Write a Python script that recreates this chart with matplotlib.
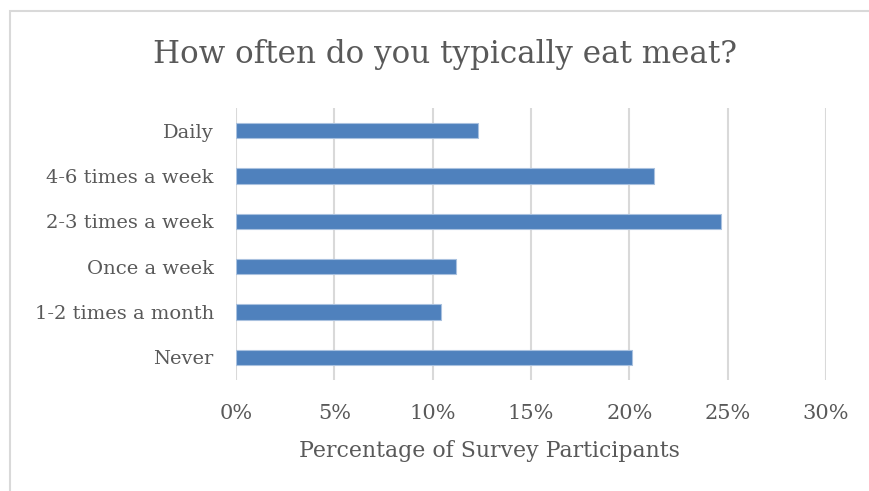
import matplotlib
matplotlib.use('Agg')
import matplotlib.pyplot as plt
from matplotlib.patches import Rectangle
from matplotlib.ticker import PercentFormatter

categories = ['Never', '1-2 times a month', 'Once a week', '2-3 times a week', '4-6 times a week', 'Daily']
percent = [20.15, 10.42, 11.17, 24.64, 21.25, 12.32]
x_ticks = [0, 5, 10, 15, 20, 25, 30]

text_color = '#595959'
plt.rcParams['font.family'] = ['DejaVu Serif']

fig = plt.figure(figsize=(8.7, 4.91), dpi=100)
ax = fig.add_axes([236 / 870, 1 - 380 / 491, 590 / 870, 272 / 491])

ax.barh(range(len(categories)), percent, height=0.34, color='#4f81bd',
        edgecolor='#a9c1df', linewidth=0.8, zorder=3)

ax.set_xlim(0, 30)
ax.set_ylim(-0.5, len(categories) - 0.5)
ax.set_xticks(x_ticks)
ax.xaxis.set_major_formatter(PercentFormatter(decimals=0))
ax.set_yticks(range(len(categories)))
ax.set_yticklabels(categories)
ax.grid(axis='x', color='#d9d9d9', linewidth=1.5, zorder=0)
for s in ax.spines.values():
    s.set_visible(False)
ax.tick_params(axis='both', length=0, colors=text_color, labelsize=14)
ax.tick_params(axis='y', pad=16)
ax.tick_params(axis='x', pad=17, labelsize=15)

fig.text(445 / 870, 1 - 55 / 491, 'How often do you typically eat meat?',
         ha='center', va='center', fontsize=22.3, color=text_color)
fig.text(489 / 870, 1 - 451 / 491, 'Percentage of Survey Participants',
         ha='center', va='center', fontsize=15.8, color=text_color)

# chart border
fig.patches.append(Rectangle((10 / 870, -0.1), 1.2, 1 - 11 / 491 + 0.1,
                             transform=fig.transFigure, fill=False,
                             edgecolor='#d9d9d9', linewidth=1.5))

fig.savefig('out.png', dpi=100)
